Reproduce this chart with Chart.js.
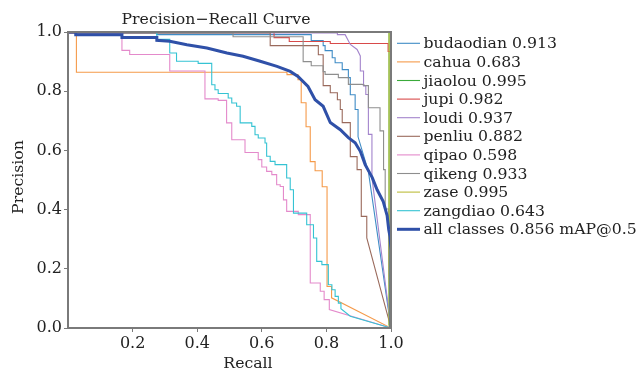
<!DOCTYPE html>
<html>
<head>
<meta charset="utf-8">
<script src="https://cdn.jsdelivr.net/npm/chart.js@4.4.1/dist/chart.umd.min.js"></script>
<style>
    body { margin: 0; background: #fff; }
</style>
</head>
<body>
<canvas id="pr-chart" width="641" height="374"></canvas>
<script>
// * Precision-Recall curves per class

const classNames = ['budaodian', 'cahua', 'jiaolou', 'jupi', 'loudi', 'penliu', 'qipao', 'qikeng', 'zase', 'zangdiao', 'all classes']
const apValues = ['0.913', '0.683', '0.995', '0.982', '0.937', '0.882', '0.598', '0.933', '0.995', '0.643', '0.856 mAP@0.5']
const lineColors = ['#3f8cc6', '#f59a4a', '#3aaa3a', '#d84a4a', '#a384cc', '#9a6a5c', '#e48acb', '#8e8e8e', '#bdbd3a', '#35c3d3', '#2f50a8']

// [recall, precision] pairs
const budaodian = [[0, 0.997], [0.275, 0.997], [0.275, 0.991], [0.753, 0.991], [0.753, 0.971], [0.79, 0.971], [0.79, 0.954], [0.796, 0.954], [0.796, 0.937], [0.818, 0.937], [0.818, 0.913], [0.827, 0.913], [0.827, 0.896], [0.849, 0.896], [0.849, 0.873], [0.868, 0.873], [0.868, 0.846], [0.874, 0.846], [0.874, 0.788], [0.889, 0.788], [0.889, 0.738], [0.898, 0.738], [0.898, 0.646], [0.93, 0.528], [1, 0]]
const cahua = [[0, 0.997], [0.026, 0.997], [0.026, 0.864], [0.678, 0.864], [0.678, 0.856], [0.712, 0.856], [0.712, 0.839], [0.722, 0.839], [0.722, 0.761], [0.737, 0.761], [0.737, 0.68], [0.75, 0.68], [0.75, 0.562], [0.765, 0.562], [0.765, 0.531], [0.787, 0.531], [0.787, 0.477], [0.802, 0.477], [0.802, 0.14], [0.816, 0.14], [0.816, 0.102], [1, 0]]
const jiaolou = [[0, 1], [0.994, 1], [0.994, 0.01], [1, 0]]
const jupi = [[0, 1], [0.638, 1], [0.638, 0.981], [0.685, 0.981], [0.685, 0.968], [0.812, 0.968], [0.812, 0.961], [0.991, 0.961], [0.991, 0.934], [1, 0.934], [1, 0]]
const loudi = [[0, 0.997], [0.834, 0.997], [0.834, 0.991], [0.858, 0.991], [0.874, 0.958], [0.895, 0.941], [0.905, 0.919], [0.905, 0.868], [0.915, 0.868], [0.915, 0.818], [0.922, 0.818], [0.922, 0.789], [0.93, 0.789], [0.93, 0.654], [0.941, 0.654], [0.941, 0.508], [1, 0]]
const penliu = [[0, 0.997], [0.626, 0.997], [0.626, 0.954], [0.775, 0.954], [0.775, 0.923], [0.79, 0.923], [0.79, 0.819], [0.812, 0.819], [0.812, 0.795], [0.834, 0.795], [0.834, 0.771], [0.843, 0.771], [0.843, 0.738], [0.849, 0.738], [0.849, 0.694], [0.874, 0.694], [0.874, 0.579], [0.895, 0.579], [0.895, 0.535], [0.908, 0.535], [0.908, 0.377], [0.925, 0.377], [0.925, 0.304], [1, 0]]
const qipao = [[0, 0.997], [0.167, 0.997], [0.167, 0.938], [0.191, 0.938], [0.191, 0.924], [0.315, 0.924], [0.315, 0.868], [0.424, 0.868], [0.424, 0.774], [0.465, 0.774], [0.465, 0.769], [0.491, 0.769], [0.491, 0.693], [0.507, 0.693], [0.507, 0.636], [0.548, 0.636], [0.548, 0.593], [0.589, 0.593], [0.589, 0.569], [0.6, 0.569], [0.6, 0.544], [0.615, 0.544], [0.615, 0.529], [0.631, 0.529], [0.631, 0.518], [0.646, 0.518], [0.646, 0.484], [0.657, 0.484], [0.657, 0.478], [0.667, 0.478], [0.667, 0.433], [0.677, 0.433], [0.677, 0.394], [0.713, 0.394], [0.713, 0.383], [0.75, 0.383], [0.75, 0.152], [0.781, 0.152], [0.781, 0.124], [0.793, 0.124], [0.793, 0.096], [0.809, 0.096], [0.809, 0.062], [1, 0]]
const qikeng = [[0, 0.997], [0.511, 0.997], [0.511, 0.984], [0.728, 0.984], [0.728, 0.9], [0.753, 0.9], [0.753, 0.886], [0.79, 0.886], [0.79, 0.866], [0.796, 0.866], [0.796, 0.857], [0.837, 0.857], [0.837, 0.846], [0.868, 0.846], [0.868, 0.823], [0.911, 0.823], [0.92, 0.819], [0.93, 0.819], [0.93, 0.744], [0.966, 0.744], [0.966, 0.666], [0.977, 0.666], [0.977, 0.535], [0.982, 0.535], [0.982, 0.402], [0.993, 0.402], [0.993, 0.187], [1, 0]]
const zase = [[0, 1], [0.994, 1], [0.994, 0.01], [1, 0]]
const zangdiao = [[0, 1], [0.275, 1], [0.275, 0.975], [0.315, 0.975], [0.315, 0.929], [0.336, 0.929], [0.336, 0.901], [0.403, 0.901], [0.403, 0.894], [0.445, 0.894], [0.445, 0.822], [0.455, 0.822], [0.455, 0.805], [0.465, 0.805], [0.465, 0.792], [0.496, 0.792], [0.496, 0.777], [0.507, 0.777], [0.507, 0.76], [0.522, 0.76], [0.522, 0.749], [0.533, 0.749], [0.533, 0.693], [0.569, 0.693], [0.569, 0.681], [0.579, 0.681], [0.579, 0.653], [0.589, 0.653], [0.589, 0.642], [0.61, 0.642], [0.61, 0.625], [0.615, 0.625], [0.615, 0.58], [0.626, 0.58], [0.626, 0.563], [0.641, 0.563], [0.641, 0.552], [0.677, 0.552], [0.677, 0.507], [0.688, 0.507], [0.688, 0.467], [0.698, 0.467], [0.698, 0.388], [0.739, 0.388], [0.739, 0.349], [0.76, 0.349], [0.76, 0.304], [0.77, 0.304], [0.77, 0.225], [0.786, 0.225], [0.786, 0.214], [0.806, 0.214], [0.806, 0.146], [0.817, 0.146], [0.817, 0.129], [0.827, 0.129], [0.827, 0.107], [0.837, 0.107], [0.837, 0.084], [0.845, 0.084], [0.845, 0.065], [0.874, 0.04], [1, 0]]
const allClasses = [[0, 1], [0.024, 1], [0.024, 0.991], [0.167, 0.991], [0.167, 0.981], [0.275, 0.981], [0.275, 0.972], [0.315, 0.969], [0.368, 0.957], [0.43, 0.946], [0.492, 0.929], [0.542, 0.918], [0.595, 0.901], [0.647, 0.884], [0.688, 0.867], [0.712, 0.85], [0.743, 0.816], [0.765, 0.771], [0.79, 0.749], [0.812, 0.694], [0.843, 0.67], [0.868, 0.643], [0.889, 0.626], [0.905, 0.597], [0.92, 0.552], [0.942, 0.508], [0.957, 0.467], [0.976, 0.427], [0.988, 0.38], [0.993, 0.332], [0.997, 0.308], [1, 0.264], [1, 0]]

const curves = [budaodian, cahua, jiaolou, jupi, loudi, penliu, qipao, qikeng, zase, zangdiao, allClasses]

const xTicks = [0.2, 0.4, 0.6, 0.8, 1.0]
const yTicks = [0, 0.2, 0.4, 0.6, 0.8, 1.0]

const fontName = '"DejaVu Serif", serif'
const axisColor = '#7a7a7a'
const textColor = '#222'

// frame, title, axis titles and legend
const extras = {
    id: 'extras',
    afterDraw(chart) {
        const { ctx, chartArea: a } = chart
        ctx.save()
        ctx.strokeStyle = axisColor
        ctx.lineWidth = 2
        ctx.strokeRect(a.left, a.top, a.right - a.left, a.bottom - a.top)

        ctx.fillStyle = textColor
        ctx.font = '15.7px ' + fontName
        ctx.textAlign = 'center'
        ctx.textBaseline = 'alphabetic'
        ctx.fillText('Precision\u2212Recall Curve', 216, 24)
        ctx.fillText('Recall', 248, 368)

        ctx.save()
        ctx.translate(22.5, 177)
        ctx.rotate(-Math.PI / 2)
        ctx.fillText('Precision', 0, 0)
        ctx.restore()

        ctx.textAlign = 'left'
        chart.data.datasets.forEach((ds, i) => {
            const y = 43.3 + i * 18.6
            ctx.strokeStyle = ds.borderColor
            ctx.lineWidth = ds.borderWidth
            ctx.beginPath()
            ctx.moveTo(397, y)
            ctx.lineTo(420, y)
            ctx.stroke()
            ctx.fillText(ds.label, 423.5, y + 5)
        })
        ctx.restore()
    }
}

const datasets = curves.map((curve, i) => ({
    label: classNames[i] + ' ' + apValues[i],
    data: curve,
    borderColor: lineColors[i],
    borderWidth: i === curves.length - 1 ? 3 : 1.1,
    pointRadius: 0,
    tension: 0,
    order: curves.length - i
}))

new Chart(document.getElementById('pr-chart'), {
    type: 'line',
    data: { datasets },
    options: {
        responsive: false,
        animation: false,
        layout: { padding: { top: 32, right: 250, left: 0, bottom: 0 } },
        plugins: {
            legend: { display: false },
            title: { display: false },
            tooltip: { enabled: false }
        },
        scales: {
            x: {
                type: 'linear',
                min: 0,
                max: 1,
                afterFit: (scale) => { scale.height = 46 },
                afterBuildTicks: (scale) => { scale.ticks = xTicks.map((v) => ({ value: v })) },
                grid: { drawOnChartArea: false, drawTicks: true, tickLength: 4, color: axisColor },
                border: { color: axisColor, width: 1.2 },
                ticks: {
                    padding: 2,
                    color: textColor,
                    font: { family: fontName, size: 16 },
                    callback: (v) => v.toFixed(1)
                }
            },
            y: {
                type: 'linear',
                min: 0,
                max: 1,
                afterFit: (scale) => { scale.width = 68 },
                afterBuildTicks: (scale) => { scale.ticks = yTicks.map((v) => ({ value: v })) },
                grid: { drawOnChartArea: false, drawTicks: true, tickLength: 4, color: axisColor },
                border: { color: axisColor, width: 1.2 },
                ticks: {
                    padding: 2,
                    color: textColor,
                    font: { family: fontName, size: 16 },
                    callback: (v) => v.toFixed(1)
                }
            }
        }
    },
    plugins: [extras]
})
</script>
</body>
</html>
